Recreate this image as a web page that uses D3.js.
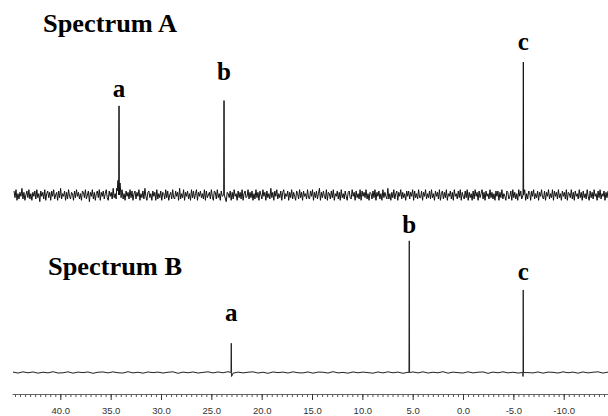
<!DOCTYPE html>
<html>
<head>
<meta charset="utf-8">
<script src="https://cdn.jsdelivr.net/npm/d3@7"></script>
<style>
  body { margin: 0; background: #fff; }
  svg { display: block; }
  .title { font-family: "Liberation Serif", "Times New Roman", serif; font-weight: bold; font-size: 25px; }
  .peakLabel { font-family: "Liberation Serif", "Times New Roman", serif; font-weight: bold; font-size: 25px; text-anchor: middle; }
  .axisLabel text { font-family: "Liberation Sans", Arial, sans-serif; font-size: 9.5px; fill: #333; }
</style>
</head>
<body>
<svg width="608" height="416"></svg>
<script>
// chemical shift axis (ppm)
const ppmTicks = [40, 35, 30, 25, 20, 15, 10, 5, 0, -5, -10];
const peakNames = ["a", "b", "c"];

// Spectrum A: peak positions (ppm) and heights (c = 100)
const peakPpmA = [34.17, 23.74, -5.99];
const peakHeightA = [67, 71, 100];
// broad foot of peak a in spectrum A
const shoulderA = [[34.4, 5], [34.27, 11], [34.07, 9], [33.93, 2]];
const traceRangeA = [44.6, -14.4];
const noiseA = [
  3,-2,4,-4,1,-3,2,-1,5,-3,2,-4,0,3,-2,4,-3,1,-4,2,
  -1,3,-3,4,-2,1,-5,3,-1,2,-3,4,-4,1,3,-2,2,-4,3,-1,
  4,-3,0,2,-4,3,-2,5,-3,1,-1,3,-4,2,-3,4,-1,-3,2,1,
  -4,3,-2,4,-1,2,-3,1,-4,3,2,-2,4,-3,0,3,-5,2,-1,4,
  -3,2,-4,1,3,-2,4,-4,2,-1,3,-3,1,4,-2,-4,3,-1,2,-3,
  5,-2,1,-3,3,-4,2,0,-2,4,-3,1,-4,3,-1,2,-3,4,-2,3,
  -4,1,3,-3,2,-1,4,-4,1,-2,3,-3,5,-1,-4,2,3,-2,1,-4,
  3,-1,2,-4,4,-3,1,-2,3,-4,2,1,-3,4,-2,3,-4,0,2,-3,
  4,-2,-3,3,-1,2,-4,5,-3,1,-2,4,-4,2,-1,3,-3,1,-4,4,
  -2,3,-3,1,4,-4,2,-1,3,-2,1,-3,4,-4,3,-2,0,2,-3,4,
  -1,-4,3,2,-3,4,-2,1,-4,3,-1,2,-3,4,-5,2,1,-2,3,-4,
  2,-3,4,-1,1,-4,3,-2,2,-3,4,-4,1,3,-2,-1,4,-3,2,-2,
  3,-4,1,-3,4,-2,2,-4,3,0,-3,4,-1,2,-4,3,-2,1,-3,5,
  -2,2,-4,3,-1,4,-3,1,-2,3,-4,2,4,-3,1,-1,3,-4,2,-2,
  4,-3,2,-1,-4,3,1,-3,4,-2,2,-4,3,-1,1,-3,4,-2,-3,3,
  -1,4,-4,2,-2,3,-3,1,5,-4,2,-2,3,-1,-3,4,-4,2,1,-3,
  3,-2,4,-4,1,-1,3,-3,2,-4,4,-2,1,-3,3,-1,-4,2,3,-2,
  -3,4,-1,2,-4,3,-2,1,-3,4,-4,3,-1,2,-2,4,-3,1,-4,2,
  1,-3,3,-2,4,-4,2,-1,3,-3,1,-4,4,-2,2,-1,-3,5,-3,1,
  -4,2,-2,4,-3,1,3,-4,2,-1,4,-3,2,-2,1,-4,3,-1,3,-3,
  2,-1,4,-4,3,-2,1,-3,4,-2,-2,3,-4,2,-1,4,-3,1,-2,3,
  -3,4,-2,1,-4,3,-1,2,-3,4,-4,1,3,-3,2,-2,4,-4,1,-1,
  3,-3,2,-4,4,-1,1,-3,3,-2,4,-4,2,-1,-3,3,-2,4,-4,2,
  -2,1,-4,3,-3,4,-1,2,-4,3,-2,1,4,-3,2,-4,3,-1,1,-3,
  4,-2,2,-3,1,-4,3,-1,3,-4,2,-2,4,-3,1,-1,-4,3,2,-3,
  -1,3,-4,4,-2,2,-3,1,-4,4,-1,3,-3,2,-2,4,-4,1,-3,3,
  2,-4,3,-1,4,-3,1,-2,3,-4,2,-1,4,-2,-3,3,-4,2,-1,4,
  -3,1,-2,4,-4,3,-1,2,-3,4,-2,1,-4,3,-1,2,-3,4,-4,2,
  1,-2,4,-3,2,-4,3,-1,1,-3,4,-2,2,-4,3,-2,1,-3,4,-1,
  -4,3,-2,2,-3,4,-1,1,-4,3,-2,4,-3,1,-1,3,-4,2,-2,3
];

// Spectrum B
const peakPpmB = [23.02, 5.34, -5.98];
const peakHeightB = [22, 99, 62];
const dipB = [[22.99, -3], [-5.96, -3]];
const traceRangeB = [44.7, -14.4];
const noiseB = [
  0.3,-0.4,0.5,-0.2,0.4,-0.5,0.2,-0.3,0.6,-0.4,
  -0.2,0.5,-0.5,0.3,-0.1,0.4,-0.6,0.2,0.4,-0.3,
  0.5,-0.2,-0.4,0.6,-0.3,0.2,-0.5,0.4,-0.1,0.3,
  -0.4,0.2,0.5,-0.6,0.3,-0.2,0.4,-0.4,0.1,0.5,
  -0.3,0.4,-0.2,0.6,-0.5,0.3,-0.3,0.2,0.5,-0.4,
  0.2,-0.6,0.4,-0.1,0.3,-0.4,0.5,-0.2,-0.3,0.4,
  -0.5,0.3,0.2,-0.4,0.6,-0.3,0.1,-0.5,0.4,-0.2,
  0.3,-0.1,-0.5,0.4,-0.3,0.5,-0.2,0.3,-0.6,0.2,
  0.4,-0.3,0.5,-0.4,0.2,-0.2,0.6,-0.5,0.3,-0.1,
  -0.4,0.5,-0.3,0.2,0.4,-0.6,0.3,-0.2,0.5,-0.3,
  0.2,-0.4,0.6,-0.1,-0.3,0.4,-0.5,0.3,0.1,-0.4,
  0.5,-0.2,0.3,-0.5,0.4,-0.3,0.2,0.5,-0.4,0.3
];

// layout
const labelGapA = [9, 21, 12];
const labelGapB = [22, 8, 10];

var svg = d3.select("svg");
let x = d3.scaleLinear().domain([44.8, -14.4]).range([12, 608]);
let yA = d3.scaleLinear().domain([0, 100]).range([195, 62]);
let yB = d3.scaleLinear().domain([0, 100]).range([372.5, 239.5]);

function buildTrace(noise, range, peakPpm, peakHeight, extra) {
    let n = noise.length;
    let pts = noise.map((v, i) => [range[0] + (range[1] - range[0]) * i / (n - 1), v])
        .filter(p => !peakPpm.some(pp => Math.abs(p[0] - pp) < 0.12));
    peakPpm.forEach((pp, i) => {
        pts.push([pp + 0.03, 0], [pp, peakHeight[i]], [pp - 0.03, 0]);
    });
    extra.forEach(p => pts.push(p));
    pts.sort((a, b) => b[0] - a[0]);
    return pts;
}

function drawSpectrum(y, noise, range, peakPpm, peakHeight, extra, gaps, title, titlePos, lineColor) {
    let pts = buildTrace(noise, range, peakPpm, peakHeight, extra);
    let line = d3.line().x(d => x(d[0])).y(d => y(d[1]));
    svg.append("path")
        .datum(pts)
        .attr("fill", "none")
        .attr("stroke", lineColor)
        .attr("stroke-width", 1)
        .attr("d", line);

    svg.selectAll(null)
        .data(peakNames)
        .enter().append("text")
        .attr("class", "peakLabel")
        .attr("x", (d, i) => x(peakPpm[i]))
        .attr("y", (d, i) => y(peakHeight[i]) - gaps[i])
        .text(d => d);

    svg.append("text")
        .attr("class", "title")
        .attr("x", titlePos[0])
        .attr("y", titlePos[1])
        .attr("textLength", 134)
        .attr("lengthAdjust", "spacingAndGlyphs")
        .text(title);
}

drawSpectrum(yA, noiseA, traceRangeA, peakPpmA, peakHeightA, shoulderA, labelGapA, "Spectrum A", [43, 32], "#111");
drawSpectrum(yB, noiseB, traceRangeB, peakPpmB, peakHeightB, dipB, labelGapB, "Spectrum B", [48, 275], "#222");

// ppm axis: minor ticks every 0.5, labelled ticks every 5
let axisY = 394;
svg.append("g")
    .attr("transform", "translate(0," + axisY + ")")
    .call(d3.axisBottom(x)
        .tickValues(d3.range(-14, 44.6, 0.5))
        .tickSize(3).tickSizeOuter(0)
        .tickFormat(""))
    .call(g => g.select(".domain").attr("stroke", "#666"))
    .call(g => g.selectAll(".tick line").attr("stroke", "#555"));

svg.append("g")
    .attr("class", "axisLabel")
    .attr("transform", "translate(0," + axisY + ")")
    .call(d3.axisBottom(x)
        .tickValues(ppmTicks)
        .tickSize(6).tickSizeOuter(0).tickPadding(7)
        .tickFormat(d => d.toFixed(1)))
    .call(g => g.select(".domain").remove())
    .call(g => g.selectAll(".tick line").attr("stroke", "#333"));
</script>
</body>
</html>
